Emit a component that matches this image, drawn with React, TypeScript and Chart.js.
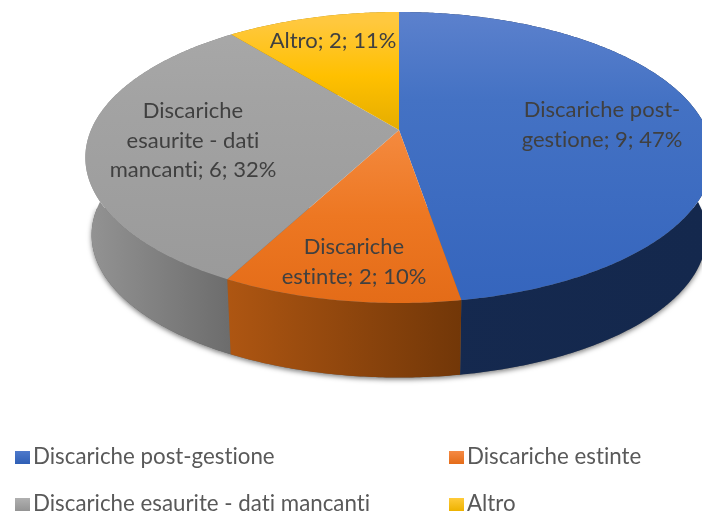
import React, { useEffect, useRef } from "react";
import { Chart, registerables } from "chart.js";

Chart.register(...registerables);

const categories = [
  "Discariche post-gestione",
  "Discariche estinte",
  "Discariche esaurite - dati mancanti",
  "Altro",
];
const shownValues = [9, 2, 6, 2];
const values = [9, 1.96, 6, 2.04];

const topStops = [
  ["#5C81CD", "#4472C4", "#3565BD"],
  ["#F48A3F", "#ED7722", "#E46C18"],
  ["#A9A9A9", "#A3A3A3", "#999999"],
  ["#FFC83E", "#FFC000", "#E5AD00"],
];
const wallStops = [
  ["#15294F", "#14284D"],
  ["#AE5612", "#723708"],
  ["#949494", "#6C6C6C"],
  ["#A67C00", "#A67C00"],
];
const swatchStops = [
  ["#4E79CB", "#2F5FB5"],
  ["#F58A45", "#E46C18"],
  ["#B0B0B0", "#949494"],
  ["#FFCB3A", "#EDB200"],
];
const labelCentres = [
  [602, 110, 175],
  [354, 247, 160],
  [193, 111, 172],
  [333, 41, 200],
];
const legendSlots = [
  [15, 451, 33, 457],
  [449, 451, 467, 457],
  [15, 498, 33, 504],
  [449, 498, 467, 504],
];

const TEXT = "#404040";
const LEGEND_TEXT = "#595959";
const FONT = "Lato, Carlito, sans-serif";

const P = { cx: 399, cy: 130, a: 308, b: 140.3, k: 0.189, dy: 78, s: 0.98 };

const proj = (ang: number, base: boolean) => {
  const x = Math.cos(ang);
  const y = Math.sin(ang);
  const w = 1 - P.k * y;
  const s = base ? P.s : 1;
  return [P.cx + (s * P.a * x) / w, P.cy + (base ? P.dy : 0) + (s * P.b * y) / w];
};

const rim = (ctx: CanvasRenderingContext2D, from: number, to: number, base: boolean, move: boolean) => {
  const n = Math.max(2, Math.ceil(Math.abs(to - from) / 0.01));
  for (let i = 0; i <= n; i++) {
    const [x, y] = proj(from + ((to - from) * i) / n, base);
    if (i === 0 && move) ctx.moveTo(x, y);
    else ctx.lineTo(x, y);
  }
};

const wrap = (ctx: CanvasRenderingContext2D, text: string, maxW: number) => {
  const tokens = text.match(/[^\s-]+-?\s*|-\s*/g) || [text];
  const lines: string[] = [];
  let cur = "";
  for (const t of tokens) {
    if (cur && ctx.measureText((cur + t).trimEnd()).width > maxW) {
      lines.push(cur.trimEnd());
      cur = t;
    } else cur += t;
  }
  if (cur) lines.push(cur.trimEnd());
  return lines;
};

const xRange = (from: number, to: number) => {
  let lo = Infinity;
  let hi = -Infinity;
  for (let i = 0; i <= 60; i++) {
    const x = proj(from + ((to - from) * i) / 60, false)[0];
    if (x < lo) lo = x;
    if (x > hi) hi = x;
  }
  return [lo, hi];
};

const pie3d = {
  id: "pie3d",
  afterDatasetsDraw(chart: any) {
    const ctx: any = chart.ctx;
    const arcs = chart.getDatasetMeta(0).data;
    const total = values.reduce((s, v) => s + v, 0);
    ctx.save();
    ctx.textRendering = "optimizeSpeed";

    // soft shadow under the whole body
    ctx.save();
    ctx.shadowColor = "rgba(0,0,0,0.5)";
    ctx.shadowBlur = 5;
    ctx.shadowOffsetX = 0;
    ctx.shadowOffsetY = 2;
    ctx.fillStyle = "#666";
    ctx.beginPath();
    rim(ctx, 0, Math.PI, true, true);
    ctx.closePath();
    ctx.fill();
    ctx.restore();

    // walls
    [3, 2, 0, 1].forEach((i) => {
      const arc = arcs[i];
      const [lo, hi] = xRange(arc.startAngle, arc.endAngle);
      const g = ctx.createLinearGradient(lo, 0, hi, 0);
      g.addColorStop(0, wallStops[i][0]);
      g.addColorStop(1, wallStops[i][1]);
      ctx.fillStyle = g;
      ctx.beginPath();
      rim(ctx, arc.startAngle, arc.endAngle, false, true);
      rim(ctx, arc.endAngle, arc.startAngle, true, false);
      ctx.closePath();
      ctx.fill();
    });

    // top faces
    arcs.forEach((arc: any, i: number) => {
      const y0 = i === 1 ? 130 : i === 3 ? 22 : 12;
      const y1 = i === 3 ? 130 : 303;
      const mid = i === 0 || i === 2 ? 0.3 : 0.5;
      const g = ctx.createLinearGradient(0, y0, 0, y1);
      g.addColorStop(0, topStops[i][0]);
      g.addColorStop(mid, topStops[i][1]);
      g.addColorStop(1, topStops[i][2]);
      ctx.fillStyle = g;
      ctx.beginPath();
      ctx.moveTo(P.cx, P.cy);
      rim(ctx, arc.startAngle, arc.endAngle, false, false);
      ctx.closePath();
      ctx.fill();
    });

    // data labels
    ctx.font = `22px ${FONT}`;
    ctx.fillStyle = TEXT;
    ctx.textAlign = "center";
    ctx.textBaseline = "middle";
    categories.forEach((c, i) => {
      const pct = Math.round((values[i] / total) * 100);
      const lines = wrap(ctx, `${c}; ${shownValues[i]}; ${pct}%`, labelCentres[i][2]);
      lines.forEach((l, j) => ctx.fillText(l, labelCentres[i][0], labelCentres[i][1] + j * 29.5));
    });

    // legend
    ctx.textAlign = "left";
    ctx.font = `22.3px ${FONT}`;
    categories.forEach((c, i) => {
      const [sx, sy, tx, ty] = legendSlots[i];
      const g = ctx.createLinearGradient(0, sy, 0, sy + 13);
      g.addColorStop(0, swatchStops[i][0]);
      g.addColorStop(1, swatchStops[i][1]);
      ctx.fillStyle = g;
      ctx.fillRect(sx, sy, 15, 13);
      ctx.fillStyle = LEGEND_TEXT;
      ctx.fillText(c, tx, ty);
    });
    ctx.restore();
  },
};

export default function App() {
  const ref = useRef<HTMLCanvasElement>(null);
  useEffect(() => {
    document.body.style.margin = "0";
    document.body.style.background = "#ffffff";
    const chart = new Chart(ref.current!, {
      type: "pie",
      data: {
        labels: categories,
        datasets: [
          {
            data: values,
            backgroundColor: "rgba(0,0,0,0)",
            borderWidth: 0,
          },
        ],
      },
      options: {
        responsive: false,
        animation: false,
        plugins: { legend: { display: false }, tooltip: { enabled: false } },
      },
      plugins: [pie3d],
    });
    return () => chart.destroy();
  }, []);
  return <canvas ref={ref} width={702} height={516} style={{ display: "block" }} />;
}
